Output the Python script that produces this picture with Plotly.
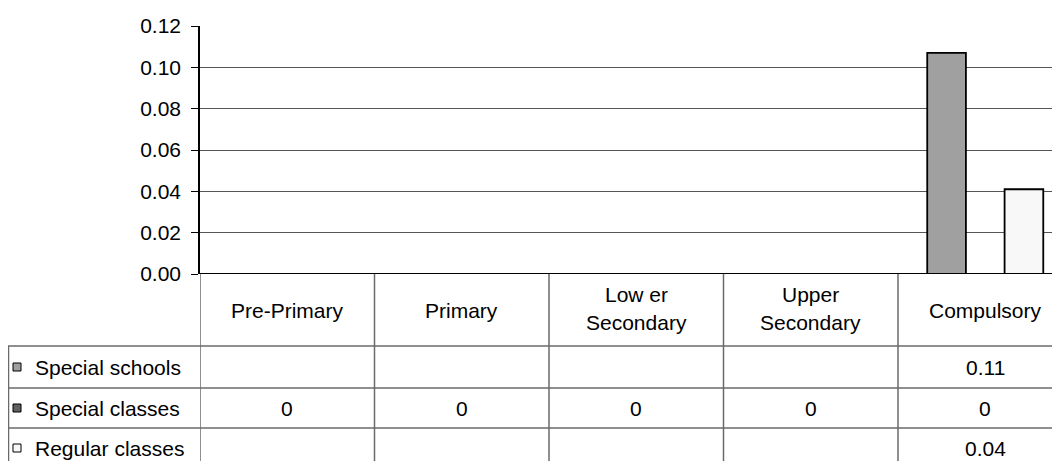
import plotly.graph_objects as go

categories = ["Pre-Primary", "Primary", "Low er Secondary", "Upper Secondary", "Compulsory"]
header_lines = [["Pre-Primary"], ["Primary"], ["Low er", "Secondary"], ["Upper", "Secondary"], ["Compulsory"]]
series_names = ["Special schools", "Special classes", "Regular classes"]
special_schools = [None, None, None, None, 0.107]
special_classes = [0, 0, 0, 0, 0]
regular_classes = [None, None, None, None, 0.041]
series_values = [special_schools, special_classes, regular_classes]
series_colors = ["#a0a0a0", "#606060", "#f8f8f8"]
y_ticks = [0.00, 0.02, 0.04, 0.06, 0.08, 0.10, 0.12]

OFF = 8  # page body margin
W, H = 1060 - OFF, 461 - OFF
# reference pixel geometry (page coords)
L_ref, T_ref, B_ref = 200, 26, 274
L, T, B0 = L_ref - OFF, T_ref - OFF, B_ref - OFF
R = W
PH = B0 - T
PW = R - L
catw = 174.5


def px(xr):
    return (xr - OFF - L) / PW


def py(yr):
    return (B0 - (yr - OFF)) / PH


FONT = "Liberation Sans, Arial, sans-serif"
FS = 21
xs = list(range(len(categories)))

fig = go.Figure()
for name, vals, col in zip(series_names, series_values, series_colors):
    fig.add_trace(go.Bar(
        x=xs, y=vals, name=name,
        marker=dict(color=col, line=dict(color="black", width=1.8)),
        showlegend=False,
    ))

xmax = -0.5 + PW / catw
fig.update_layout(
    width=W, height=H,
    margin=dict(l=L, r=W - R, t=T, b=H - B0, pad=0),
    paper_bgcolor="white", plot_bgcolor="white",
    barmode="group", bargap=0.335, bargroupgap=0,
    font=dict(family=FONT, size=FS, color="black"),
    xaxis=dict(range=[-0.5, xmax], showticklabels=False, ticks="", showgrid=False,
               zeroline=False, showline=False, fixedrange=True),
    yaxis=dict(range=[0, 0.12], tickvals=y_ticks, tickformat=".2f", ticks="outside",
               ticklen=7, tickcolor="black", tickwidth=1, ticklabelstandoff=6,
               showgrid=True, gridcolor="#555555", gridwidth=1, zeroline=False,
               showline=True, linecolor="black", linewidth=1.5,
               tickfont=dict(family=FONT, size=FS, color="black")),
)

shapes = []
shapes.append(dict(type="line", xref="paper", yref="y", x0=0, x1=1, y0=0, y1=0,
                   line=dict(color="black", width=2.2), layer="above"))
LINE = dict(color="#6a6a6a", width=1.5)
row_y = [346, 388, 428]
bottom = 470
for ry in row_y:
    shapes.append(dict(type="line", xref="paper", yref="paper", x0=px(8), x1=1,
                       y0=py(ry), y1=py(ry), line=LINE))
for i in range(len(categories)):
    xb = i - 0.5
    shapes.append(dict(type="line", xref="x", yref="paper", x0=xb, x1=xb,
                       y0=py(B_ref), y1=py(bottom), line=LINE))
shapes.append(dict(type="line", xref="paper", yref="paper", x0=px(8.5), x1=px(8.5),
                   y0=py(row_y[0]), y1=py(bottom), line=LINE))

annotations = []
row_centers = [367, 408, 448]
for i, lines in enumerate(header_lines):
    ys = [310] if len(lines) == 1 else [294, 322]
    for ln, yy in zip(lines, ys):
        annotations.append(dict(xref="x", yref="paper", x=i, y=py(yy), text=ln,
                                showarrow=False, xanchor="center", yanchor="middle",
                                font=dict(family=FONT, size=FS, color="black")))
for name, col, cy in zip(series_names, series_colors, row_centers):
    shapes.append(dict(type="rect", xref="paper", yref="paper",
                       x0=px(13), x1=px(21), y0=py(cy - 4), y1=py(cy + 4),
                       fillcolor=col, line=dict(color="black", width=1)))
    annotations.append(dict(xref="paper", yref="paper", x=px(33), y=py(cy), text=name,
                            showarrow=False, xanchor="left", yanchor="middle",
                            font=dict(family=FONT, size=FS, color="black")))
for vals, cy in zip(series_values, row_centers):
    for i, v in enumerate(vals):
        if v is None:
            continue
        txt = "0" if v == 0 else f"{v:.2f}"
        annotations.append(dict(xref="x", yref="paper", x=i, y=py(cy), text=txt,
                                showarrow=False, xanchor="center", yanchor="middle",
                                font=dict(family=FONT, size=FS, color="black")))

fig.update_layout(shapes=shapes, annotations=annotations)
fig.write_html("out.html")
